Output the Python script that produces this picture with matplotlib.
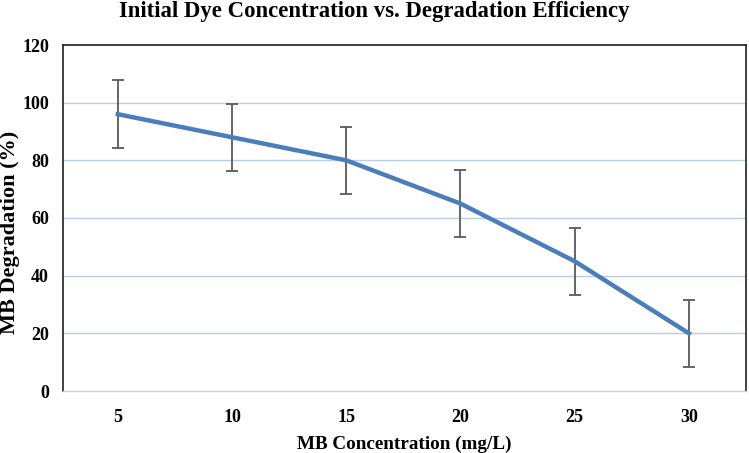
import matplotlib
matplotlib.use("Agg")
import matplotlib.pyplot as plt

categories = ["5", "10", "15", "20", "25", "30"]
degradation = [96, 88, 80, 65, 45, 20]
errors = [11.7, 11.7, 11.7, 11.7, 11.7, 11.7]
yticks = [0, 20, 40, 60, 80, 100, 120]

plt.rcParams['font.family'] = ['Liberation Serif', 'DejaVu Serif']

fig = plt.figure(figsize=(7.49, 4.53), dpi=100)
ax = fig.add_axes([63/749, 62/453, 683/749, 346/453])

x = list(range(len(categories)))
ax.errorbar(x, degradation, yerr=errors, color='#4A7EBB', lw=3.2,
            ecolor='#595959', elinewidth=1.3, capsize=4.5, capthick=1.3, zorder=3)

ax.set_xlim(-0.48, len(categories) - 0.5)
ax.set_ylim(0, 120)
ax.set_yticks(yticks)
ax.set_xticks(x)
ax.set_xticklabels(categories)
for y in yticks[1:-1]:
    ax.axhline(y, color='#B9CDE5', lw=1, zorder=1)

for s in ['left', 'top', 'right']:
    ax.spines[s].set_color('#202020')
    ax.spines[s].set_linewidth(1.2)
ax.spines['bottom'].set_color('#D0D0D0')
ax.spines['bottom'].set_linewidth(1)
ax.tick_params(length=0, labelsize=13)
ax.tick_params(axis='y', pad=10)
ax.tick_params(axis='x', pad=13)
for lab in ax.get_xticklabels() + ax.get_yticklabels():
    lab.set_fontweight('bold')

ax.set_xlabel("MB Concentration (mg/L)", fontsize=13.8, fontweight='bold', labelpad=7)
fig.text(10/749, 1 - 232/453, "MB Degradation (%)", rotation=90,
         ha='center', va='center', fontsize=16, fontweight='bold')
fig.text(0.5, 0.997, "Initial Dye Concentration vs. Degradation Efficiency",
         ha='center', va='top', fontsize=16.4, fontweight='bold')

fig.savefig("out.png", dpi=100)
